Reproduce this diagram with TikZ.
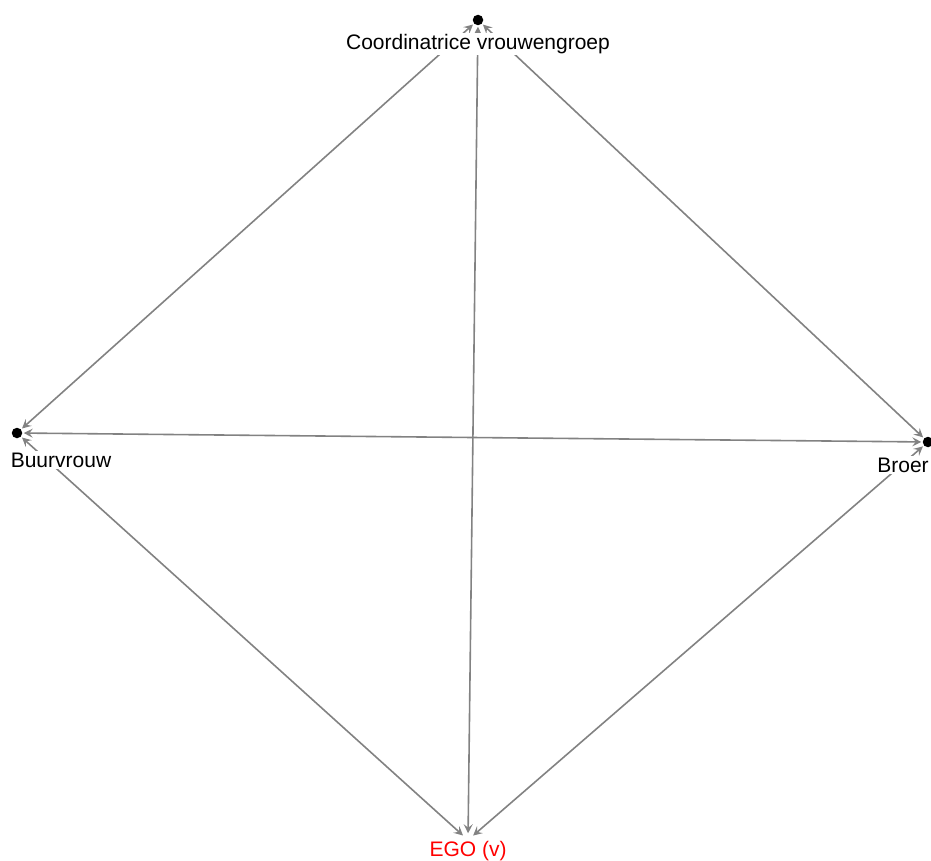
\documentclass[tikz,border=0pt]{standalone}
\usepackage{fontspec}
\setmainfont{Liberation Sans}
\usetikzlibrary{arrows.meta}
\definecolor{edgegray}{RGB}{130,130,130}
\begin{document}
\begin{tikzpicture}[x=1pt,y=-1pt,
  dot/.style={circle,fill=black,inner sep=0pt,minimum size=10.5pt,outer sep=1.5pt},
  hid/.style={circle,inner sep=0pt,minimum size=10.5pt,outer sep=1.5pt},
  edge/.style={draw=edgegray,line width=1.6pt,
    {Stealth[length=9pt,width=9pt,inset=3.5pt]}-{Stealth[length=9pt,width=9pt,inset=3.5pt]}},
  lab/.style={fill=white,inner sep=1.5pt,font=\fontsize{21}{24}\selectfont},
]
\useasboundingbox (0,0) rectangle (931,861);
\node[dot] (c) at (478,20) {};
\node[dot] (b) at (17,433) {};
\node[dot] (r) at (928,442) {};
\node[hid] (e) at (468,840) {};
\draw[edge] (c) -- (b);
\draw[edge] (c) -- (r);
\draw[edge] (c) -- (e);
\draw[edge] (b) -- (r);
\draw[edge] (b) -- (e);
\draw[edge] (r) -- (e);
\node[lab] (cl) at (478,44) {Coordinatrice vrouwengroep};
\node[lab] (bl) at (61,460) {Buurvrouw};
\node[lab] (rl) at (903,465) {Broer};
\node[lab,text=red] (el) at (468,851) {EGO (v)};
\end{tikzpicture}
\end{document}
